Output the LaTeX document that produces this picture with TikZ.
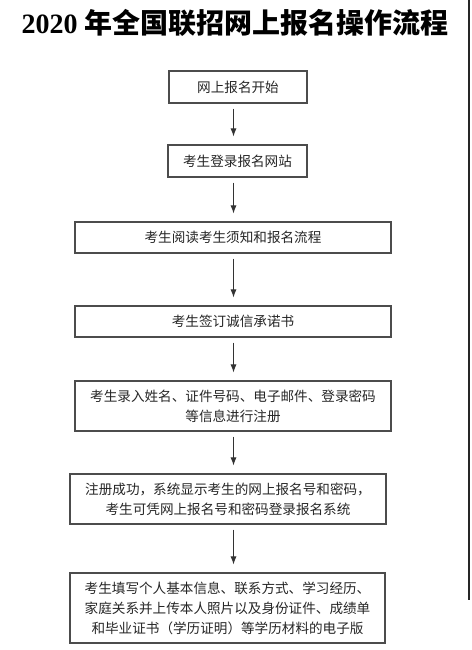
\documentclass[tikz,border=0pt]{standalone}
\usepackage{fontspec}
\setmainfont{Liberation Serif}
\newfontfamily\cjk{Noto Sans CJK SC}
\usepackage{tikz}
\usetikzlibrary{calc, arrows.meta}

\begin{document}
\begin{tikzpicture}[x=1pt, y=-1pt]

        % 1. Page size and the column the arrows run in
        \useasboundingbox (0,0) rectangle (471,650);
        \coordinate (ax) at (233.5, 0); % x of all arrows

        \tikzset{
          stepbox/.style={draw=black!70, line width=1.1pt, fill=white, inner sep=0pt,
                          align=center, text=black!85,
                          font=\cjk\fontsize{13.6}{20}\selectfont},
          flow/.style={draw=black!80, line width=0.9pt,
                       -{Latex[length=8pt, width=6pt]},
                       shorten <=5pt, shorten >=8pt}
        }

        % 2. Title
        \node (title) at (235, 23) {\fontsize{28}{30}\selectfont\bfseries 2020 {\cjk 年全国联招网上报名操作流程}};

        % 3. The steps
        \node[stepbox, minimum width=138pt, minimum height=32pt] (start) at (238, 87) {网上报名开始};
        \node[stepbox, minimum width=139pt, minimum height=32pt] (login) at (237.5, 161) {考生登录报名网站};
        \node[stepbox, minimum width=316pt, minimum height=31pt] (read) at (233, 237.5) {考生阅读考生须知和报名流程};
        \node[stepbox, minimum width=316pt, minimum height=31pt] (sign) at (233, 321.5) {考生签订诚信承诺书};
        \node[stepbox, minimum width=316pt, minimum height=50pt] (enter) at (233, 406)
          {考生录入姓名、证件号码、电子邮件、登录密码\\等信息进行注册};
        \node[stepbox, minimum width=316pt, minimum height=50pt] (done) at (228, 499)
          {注册成功，系统显示考生的网上报名号和密码，\\考生可凭网上报名号和密码登录报名系统};
        \node[stepbox, minimum width=315pt, minimum height=70pt] (fill) at (227.5, 608)
          {考生填写个人基本信息、联系方式、学习经历、\\家庭关系并上传本人照片以及身份证件、成绩单\\和毕业证书（学历证明）等学历材料的电子版};

        % 4. Arrows between the steps
        \draw[flow] (start.south -| ax) -- (login.north -| ax);
        \draw[flow] (login.south -| ax) -- (read.north -| ax);
        \draw[flow] (read.south -| ax) -- (sign.north -| ax);
        \draw[flow] (sign.south -| ax) -- (enter.north -| ax);
        \draw[flow] (enter.south -| ax) -- (done.north -| ax);
        \draw[flow] (done.south -| ax) -- (fill.north -| ax);

        % 5. Edge line on the right
        \coordinate (edgeT) at (469, 0);
        \coordinate (edgeB) at (469, 600);
        \draw[line width=1.5pt, black!85] (edgeT) -- (edgeB);

\end{tikzpicture}
\end{document}
